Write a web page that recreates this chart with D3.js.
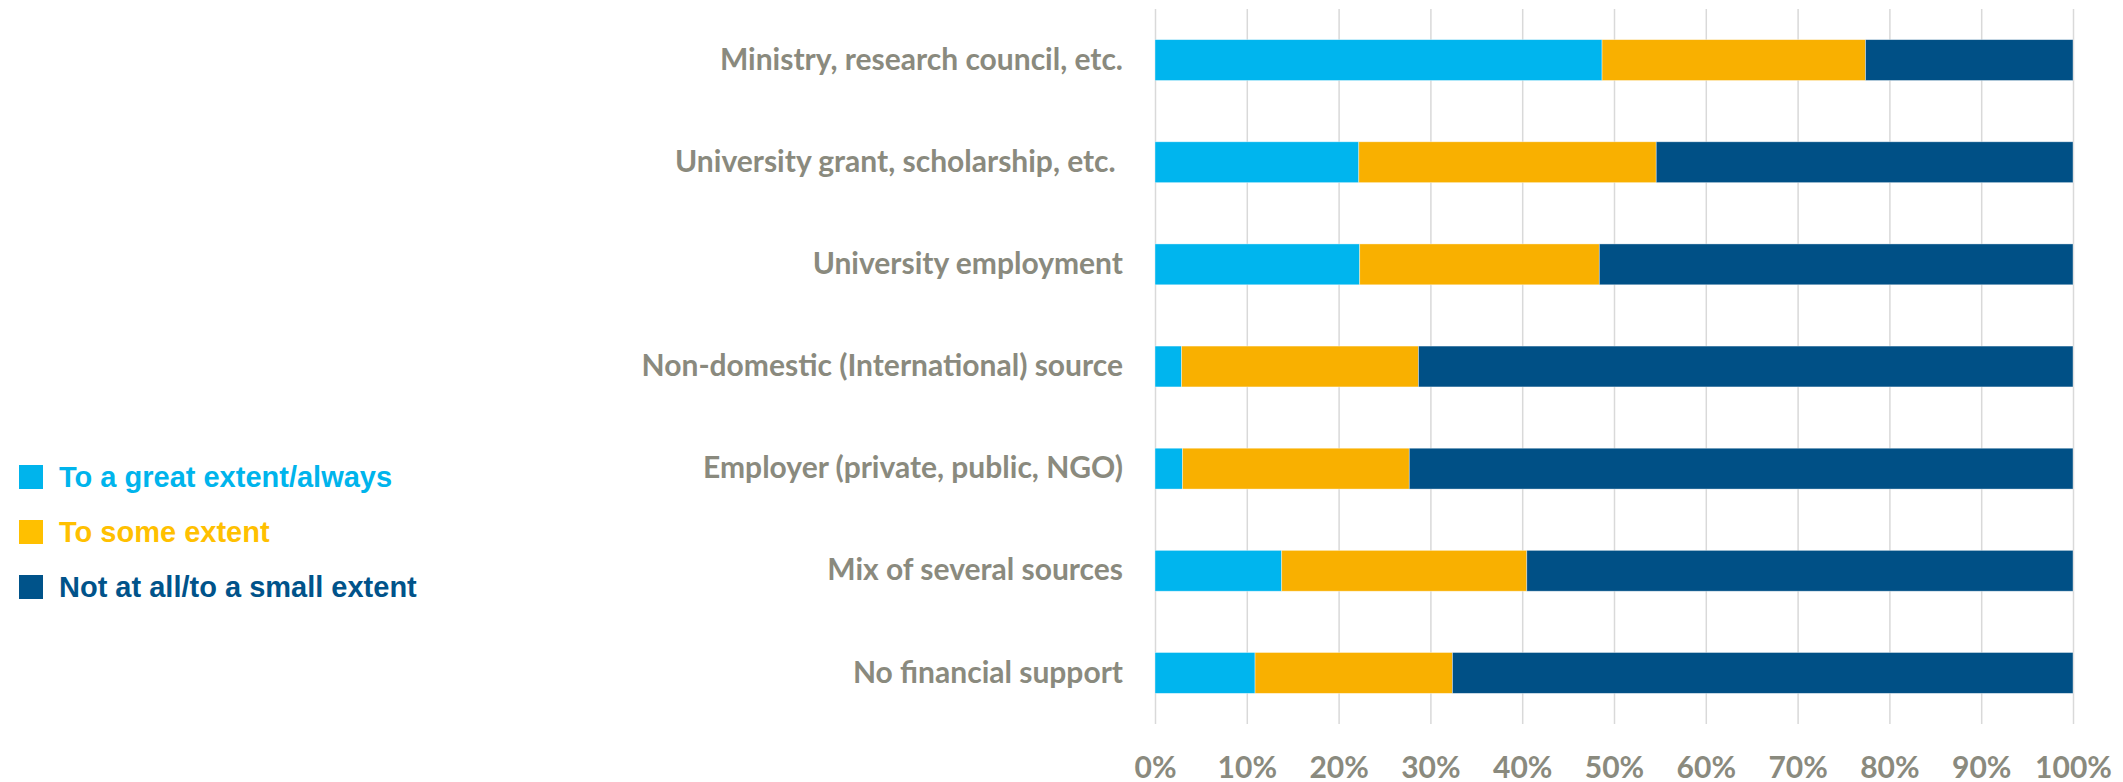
<!DOCTYPE html>
<html>
<head>
<meta charset="utf-8">
<script src="https://cdn.jsdelivr.net/npm/d3@7"></script>
<style>
  html, body { margin: 0; padding: 0; background: #fff; }
  svg { display: block; }
</style>
</head>
<body>
<script>
"use strict";

// Data (percent of respondents)

let categories = [
    "Ministry, research council, etc.",
    "University grant, scholarship, etc. ",
    "University employment",
    "Non-domestic (International) source",
    "Employer (private, public, NGO)",
    "Mix of several sources",
    "No financial support"
];
let seriesNames = ["To a great extent/always", "To some extent", "Not at all/to a small extent"];
let greatExtent = [48.7, 22.2, 22.3, 2.9, 3.0, 13.8, 10.9];
let someExtent = [28.7, 32.4, 26.1, 25.8, 24.7, 26.7, 21.5];
let smallExtent = [22.6, 45.4, 51.6, 71.3, 72.3, 59.5, 67.6];
let tickValues = [0, 10, 20, 30, 40, 50, 60, 70, 80, 90, 100];

let barColors = ["#00b5ee", "#f9b000", "#005086"];
let legendColors = ["#00b4ec", "#ffc000", "#00538a"];
let labelFont = "Lato, 'Open Sans', sans-serif";
let greyText = "#8a8a7e";

// Layout

let svgWidth = 2123;
let svgHeight = 782;
let plot = {left: 1155, right: 2073, top: 9, bottom: 724};

let rows = categories.map((c, i) => ({
    name: c,
    great: greatExtent[i],
    some: someExtent[i],
    small: smallExtent[i]
}));

let stacked = d3.stack().keys(["great", "some", "small"])(rows);

let xScale = d3.scaleLinear()
    .domain([0, 100])
    .range([plot.left, plot.right]);

let yScale = d3.scaleBand()
    .domain(categories)
    .range([plot.top, plot.bottom])
    .paddingInner(0.6)
    .paddingOuter(0.3);

let svg = d3.select("body")
    .append("svg")
    .attr("width", svgWidth)
    .attr("height", svgHeight);

// Grid + x axis

let xAxis = d3.axisBottom(xScale)
    .tickValues(tickValues)
    .tickFormat(d => d + "%")
    .tickSize(-(plot.bottom - plot.top));

let gx = svg.append("g")
    .attr("transform", `translate(0, ${plot.bottom})`)
    .call(xAxis);

gx.select(".domain").remove();
gx.selectAll(".tick line")
    .style("stroke", "#d9d9d9")
    .style("stroke-width", 1.5);
gx.selectAll(".tick text")
    .attr("y", 43)
    .attr("dy", "0.35em")
    .style("fill", greyText)
    .style("font-family", labelFont)
    .style("font-weight", "bold")
    .style("font-size", "30px");

// Bars

let layers = svg.append("g")
    .selectAll("g")
    .data(stacked)
    .join("g")
    .attr("fill", (d, i) => barColors[i]);

layers.selectAll("rect")
    .data(d => d)
    .join("rect")
    .attr("x", d => xScale(d[0]))
    .attr("y", d => yScale(d.data.name))
    .attr("width", d => xScale(d[1]) - xScale(d[0]))
    .attr("height", yScale.bandwidth())
    .style("stroke", "#ffffff")
    .style("stroke-opacity", 0.5)
    .style("stroke-width", 0.75);

// Category labels

let yAxis = d3.axisLeft(yScale)
    .tickSize(0)
    .tickPadding(plot.left - 1123);

let gy = svg.append("g")
    .attr("transform", `translate(${plot.left}, 0)`)
    .call(yAxis);

gy.select(".domain").remove();
gy.selectAll(".tick text")
    .style("white-space", "pre")
    .style("fill", greyText)
    .style("font-family", labelFont)
    .style("font-weight", "bold")
    .style("font-size", "30px");

// Legend

let legendY = [477, 532, 587];

let legend = svg.append("g")
    .selectAll("g")
    .data(seriesNames)
    .join("g")
    .attr("transform", (d, i) => `translate(19, ${legendY[i]})`);

legend.append("rect")
    .attr("x", 0)
    .attr("y", -12)
    .attr("width", 24)
    .attr("height", 24)
    .attr("fill", (d, i) => legendColors[i]);

legend.append("text")
    .attr("x", 40)
    .attr("dy", "0.36em")
    .text(d => d)
    .style("fill", (d, i) => legendColors[i])
    .style("font-family", "'Liberation Sans', Arial, sans-serif")
    .style("font-weight", "bold")
    .style("font-size", "29px");
</script>
</body>
</html>
